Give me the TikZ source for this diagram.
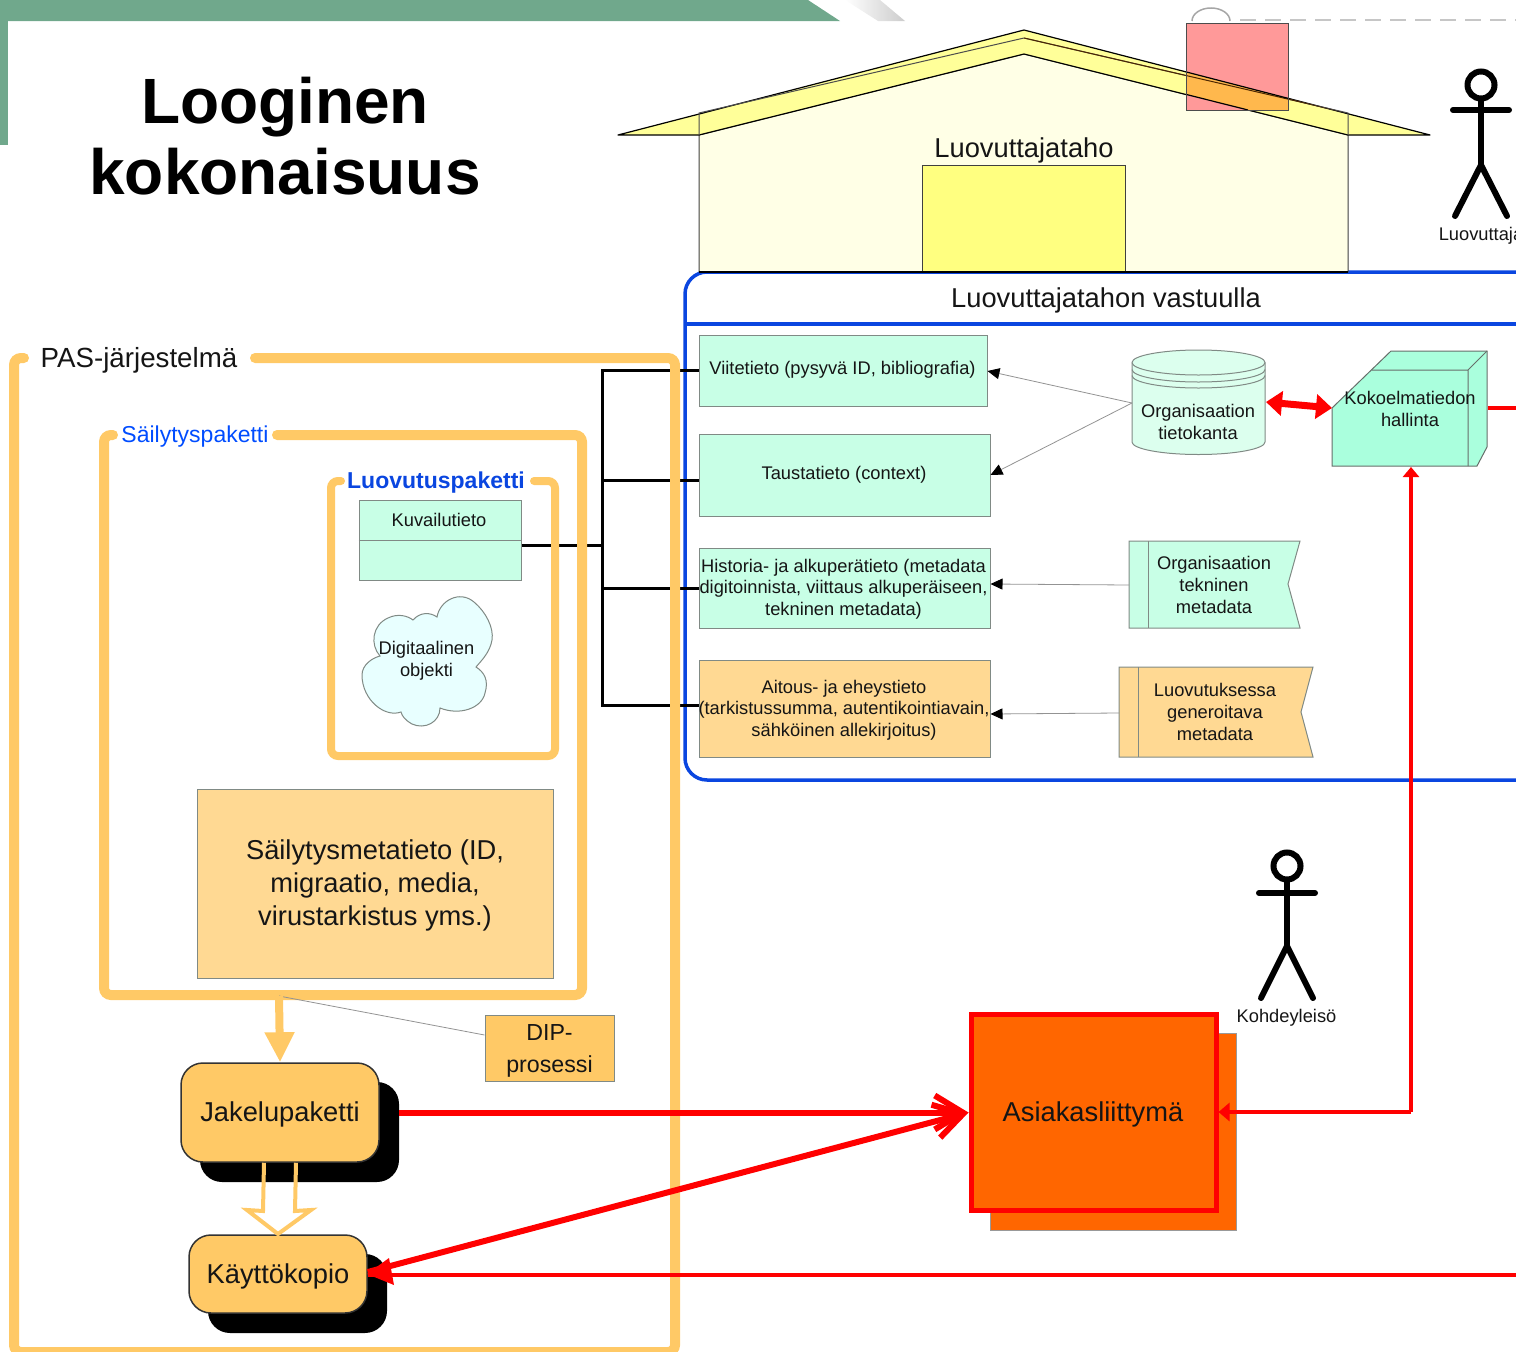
\documentclass[tikz,border=0pt]{standalone}
\usepackage{fontspec}
\setmainfont{Liberation Sans}
\usetikzlibrary{arrows.meta,calc}
\definecolor{topgreen}{HTML}{70A88C}
\definecolor{pasorange}{HTML}{FFC966}
\definecolor{mint}{HTML}{C8FFE6}
\definecolor{cube}{HTML}{AAFFDD}
\definecolor{peach}{HTML}{FFD993}
\definecolor{blueline}{HTML}{0A46E0}
\definecolor{txt}{HTML}{151515}
\definecolor{edgegray}{HTML}{808A85}
\definecolor{wallc}{HTML}{FFFFE6}
\definecolor{roofc}{HTML}{FFFF99}
\definecolor{doorc}{HTML}{FFFF80}
\definecolor{pinkc}{HTML}{FF9999}
\definecolor{overlap}{HTML}{FFB84D}
\definecolor{redorange}{HTML}{FF6600}
\definecolor{cloudc}{HTML}{E8FFFF}
\definecolor{cylc}{HTML}{DCFFEE}
\newcommand{\fs}[2]{\fontsize{#1}{#2}\selectfont}
\tikzset{
  mbox/.style={draw=edgegray,line width=1pt,fill=mint,inner sep=0pt,align=center,text=txt,font=\fs{18.3}{21.7}},
  pbox/.style={mbox,fill=peach},
  label18/.style={inner sep=0pt,align=center,text=txt,font=\fs{18.3}{21.7}},
  rbox/.style={draw=black!80,line width=1.5pt,fill=pasorange,rounded corners=22pt,inner sep=0pt,text=txt,font=\fs{27.3}{32}},
  shadowbox/.style={draw=none,fill=black,rounded corners=22pt,inner sep=0pt},
  frame/.style={draw=pasorange,line width=10pt,rounded corners=7pt,line cap=round},
  bus/.style={draw=black,line width=3pt},
  thinarrow/.style={draw=gray!85,line width=.8pt,-{Triangle[length=12pt,width=11pt,fill=black,color=black]}},
  stick/.style={draw=black,line width=6pt,line cap=round},
  redline/.style={draw=red,line width=4pt},
  stickhead/.style={circle,draw=black,line width=6pt,minimum size=27pt,inner sep=0pt},
}
\begin{document}
\begin{tikzpicture}[x=1pt,y=-1pt]
\useasboundingbox (0,0) rectangle (1516,1352);
% top decoration
\fill[topgreen] (0,0) -- (808,0) -- (840,21) -- (0,21) -- cycle;
\fill[topgreen] (0,21) rectangle (8,145);
\shade[left color=white,right color=gray!40] (845,0) -- (880,0) -- (905,21) -- (878,21) -- cycle;
\draw[gray!70,line width=1.5pt] (1192,21) arc[start angle=180,end angle=360,x radius=19,y radius=13];
\draw[gray!45,line width=2pt,dash pattern=on 16pt off 9pt] (1240,20) -- (1516,20);
% title
\node[inner sep=0pt,align=center,font=\fs{64}{71}\bfseries] (title) at (285,136.5) {Looginen\\kokonaisuus};
% blue box
\draw[blueline,line width=3.5pt,rounded corners=22pt] (1560,272) -- (685,272) -- (685,780) -- (1560,780);
\draw[blueline,line width=3.5pt] (685,324) -- (1516,324);
\node[inner sep=0pt,font=\fs{27.3}{32},text=txt] (vastuu) at (1106,300) {Luovuttajatahon vastuulla};
% house
\begin{scope}[line join=round]
\draw[fill=wallc,draw=black!75,line width=1pt] (699,135) -- (1024,54) -- (1348,135) -- (1348,272) -- (699,272) -- cycle;
\draw[fill=roofc,draw=black,line width=1.2pt] (618,135) -- (1024,30) -- (1430,135) -- (1348,135) -- (1024,54) -- (699,135) -- cycle;
\draw[black!70,line width=1pt] (699,135) -- (699,113) -- (1024,38) -- (1348,113) -- (1348,135);
\end{scope}
\draw[fill=pinkc,draw=black!75,line width=1pt] (1186,23) rectangle (1288,110);
\begin{scope}
\clip (618,135) -- (1024,30) -- (1430,135) -- (1348,135) -- (1024,54) -- (699,135) -- cycle;
\fill[overlap] (1186,23) rectangle (1288,110);
\draw[black!70!orange,line width=1pt] (1024,38) -- (1348,113);
\end{scope}
\draw[black,line width=1.2pt] (1186,71.9) -- (1288,98.3);
\draw[black,line width=1.2pt] (1186,94.4) -- (1248,110);
\draw[black!70,line width=1pt] (1186,23) rectangle (1288,110);
\node[draw=black!75,line width=1pt,fill=doorc,minimum width=203pt,minimum height=107pt,inner sep=0pt] (door) at (1023.5,218.5) {};
\draw[black,line width=1.3pt] (699,272) -- (1348,272);
\node[inner sep=0pt,font=\fs{27.3}{32},text=txt] (taho) at (1024,150) {Luovuttajataho};
% figures
\node[stickhead] (h1) at (1481,85) {};
\coordinate (hip1) at (1481,165);
\draw[stick] (h1) -- (hip1) (1453,110) -- (1509,110);
\draw[stick] (1455,216) -- (hip1) -- (1507,216);
\node[label18] (luov) at (1481,236) {Luovuttaja};
\node[stickhead] (h2) at (1287,866) {};
\coordinate (hip2) at (1287,946);
\draw[stick] (h2) -- (hip2) (1259,893) -- (1315,893);
\draw[stick] (1261,998) -- (hip2) -- (1313,998);
\node[label18] (kohde) at (1286.5,1018) {Kohdeyleisö};
% data boxes
\node[mbox,minimum width=288pt,minimum height=71pt] (viite) at (843,370.5) {};
\node[label18] (viitet) at (842.5,370) {Viitetieto (pysyvä ID, bibliografia)};
\node[mbox,minimum width=291pt,minimum height=82pt] (tausta) at (844.5,475) {};
\node[label18] (taustat) at (844,475) {Taustatieto (context)};
\node[mbox,minimum width=291pt,minimum height=80pt] (hist) at (844.5,588) {};
\node[label18] (histt) at (843.5,589) {Historia- ja alkuperätieto (metadata\\digitoinnista, viittaus alkuperäiseen,\\tekninen metadata)};
\node[pbox,minimum width=291pt,minimum height=97pt] (aitous) at (844.5,708.5) {};
\node[label18] (aitoust) at (844,710) {Aitous- ja eheystieto\\(tarkistussumma, autentikointiavain,\\sähköinen allekirjoitus)};
% Kuvailutieto
\node[mbox,minimum width=162pt,minimum height=80pt] (kuv) at (440,540) {};
\draw[edgegray,line width=1pt] (kuv.west) -- (kuv.east);
\node[label18] (kuvt) at (439,519.5) {Kuvailutieto};
% black bus (under orange frames)
\coordinate (bustop) at (602,370);
\coordinate (busbot) at (602,705);
\draw[bus] (viite.west |- bustop) -- (bustop) -- (busbot) -- (aitous.west |- busbot);
\draw[bus] ($(kuv.east)+(0,5)$) -- (602,545);
\draw[bus] (602,480) -- (tausta.west |- 0,480);
\draw[bus] (602,588) -- (hist.west);
% cloud
\draw[draw=edgegray,fill=cloudc,line width=1pt] (437,617)
  .. controls (440,600) and (460,590) .. (474,602)
  .. controls (486,612) and (494,628) .. (492,640)
  .. controls (490,652) and (482,660) .. (476,667)
  .. controls (484,672) and (489,680) .. (485,693)
  .. controls (482,708) and (460,716) .. (440,708)
  .. controls (440,722) and (425,730) .. (412,724)
  .. controls (405,720) and (402,716) .. (401,712)
  .. controls (385,718) and (362,700) .. (362,675)
  .. controls (362,665) and (372,658) .. (380,656)
  .. controls (370,645) and (372,625) .. (388,618)
  .. controls (398,613) and (408,616) .. (413,620)
  .. controls (420,612) and (430,612) .. (437,617) -- cycle;
\node[label18] (dig) at (426.5,661) {Digitaalinen\\objekti};
% frames
\draw[frame] (24,358) -- (14,358) -- (14,1352) -- (675,1352) -- (675,358) -- (255,358);
\node[inner sep=0pt,font=\fs{27.7}{32},text=txt] (pas) at (139,360.5) {PAS-järjestelmä};
\draw[frame] (113,435) -- (104,435) -- (104,995) -- (582,995) -- (582,435) -- (277,435);
\node[inner sep=0pt,font=\fs{23}{27},text=blue!70!cyan] (sail) at (195,437) {Säilytyspaketti};
\draw[frame,line width=8pt] (341,481) -- (331,481) -- (331,756) -- (555,756) -- (555,481) -- (534,481);
\node[inner sep=0pt,font=\fs{23}{27}\bfseries,text=blueline] (luovp) at (436,483) {Luovutuspaketti};
\node[pbox,minimum width=356pt,minimum height=189pt] (smeta) at (375,883.5) {};
\node[inner sep=0pt,align=center,text=txt,font=\fs{27.3}{33}] (smetat) at (375,885.5) {Säilytysmetatieto (ID,\\migraatio, media,\\virustarkistus yms.)};
% cylinder
\path[draw=edgegray,fill=cylc,line width=1pt] (1132,362.5) -- (1132,442) arc[start angle=180,end angle=0,x radius=66.5,y radius=12.5] -- (1265,362.5) arc[start angle=0,end angle=-180,x radius=66.5,y radius=12.5] -- cycle;
\draw[edgegray,line width=1pt] (1132,362.5) arc[start angle=180,end angle=0,x radius=66.5,y radius=12.5];
\draw[edgegray,line width=1pt] (1132,369.5) arc[start angle=180,end angle=0,x radius=66.5,y radius=12.5];
\draw[edgegray,line width=1pt] (1132,375.5) arc[start angle=180,end angle=0,x radius=66.5,y radius=12.5];
\node[label18] (org) at (1198,422) {Organisaation\\tietokanta};
\coordinate (orgw) at (1132,403);
\coordinate (orge) at (1266,402);
% cube
\draw[draw=edgegray!80!black,fill=cube,line width=1pt] (1332,408) -- (1391,351) -- (1487,351) -- (1487,447) -- (1477,466) -- (1332,466) -- cycle;
\draw[edgegray!80!black,line width=1pt] (1372,370) -- (1468,370) -- (1468,466) (1468,370) -- (1487,351);
\node[label18] (koko) at (1410,409) {Kokoelmatiedon\\hallinta};
\coordinate (kokow) at (1332,408);
\coordinate (kokos) at (1411,467);
\coordinate (kokoe) at (1488,408);
\coordinate (rightA) at (1516,408);
% metadata flags
\draw[draw=edgegray,fill=mint,line width=1pt] (1129,541) -- (1300,541) -- (1288,584) -- (1300,628) -- (1129,628) -- cycle;
\draw[edgegray,line width=1pt] (1148,541) -- (1148,628);
\node[label18] (orgtek) at (1214,585) {Organisaation\\tekninen\\metadata};
\coordinate (orgtekw) at (1129,585);
\draw[draw=edgegray,fill=peach,line width=1pt] (1119,667) -- (1313,667) -- (1301,712) -- (1313,757) -- (1119,757) -- cycle;
\draw[edgegray,line width=1pt] (1138,667) -- (1138,757);
\node[label18] (luovm) at (1215,712) {Luovutuksessa\\generoitava\\metadata};
\coordinate (luovmw) at (1119,713);
% thin arrows
\draw[thinarrow] (orgw) -- (viite.east |- 0,371);
\draw[thinarrow] (orgw) -- (tausta.east);
\draw[thinarrow] (orgtekw) -- (hist.east |- 0,584);
\draw[thinarrow] (luovmw) -- (aitous.east |- 0,714);
% lower nodes
\node[draw=edgegray,line width=1pt,fill=pasorange,inner sep=0pt,align=center,text=txt,font=\fs{23.2}{32},minimum width=129pt,minimum height=66pt] (dip) at (549.5,1048) {};
\node[inner sep=0pt,align=center,text=txt,font=\fs{23.2}{32}] (dipt) at (549.5,1050.5) {DIP-\\prosessi};
\coordinate (sailb) at (279,996);
\draw[gray!85,line width=.8pt] (dip.west |- 0,1035) -- (sailb);
\node[shadowbox,minimum width=199pt,minimum height=100pt] (jakels) at (299.5,1132) {};
\node[rbox,minimum width=198pt,minimum height=99pt] (jakel) at (280,1112.5) {};
\node[inner sep=0pt,text=txt,font=\fs{27.3}{32}] (jakelt) at (280,1114.5) {Jakelupaketti};
\node[shadowbox,minimum width=179pt,minimum height=79pt] (kayts) at (297.5,1293.5) {};
\node[rbox,minimum width=178pt,minimum height=78pt] (kayt) at (278,1274) {};
\node[inner sep=0pt,text=txt,font=\fs{27.3}{32}] (kaytt) at (278,1276) {Käyttökopio};
\draw[pasorange,line width=8pt,-{Triangle[length=30pt,width=28pt]}] (sailb) -- (jakel.north);
% hollow arrow
\draw[pasorange,line width=4pt,line join=miter] ($(jakel.south)+(-16,0)$) -- (263,1211) -- (247,1210) -- (278,1234) -- (311,1210) -- (295,1211) -- ($(jakel.south)+(16,0)$);
% Asiakasliittyma
\node[draw=gray!80,line width=1pt,fill=redorange,minimum width=246pt,minimum height=197pt,inner sep=0pt] (asias) at (1113,1131.5) {};
\node[draw=red,line width=5pt,fill=redorange,minimum width=245pt,minimum height=196pt,inner sep=0pt] (asia) at (1093.5,1112.5) {};
\node[inner sep=0pt,text=txt,font=\fs{27.3}{32}] (asiat) at (1093,1114.5) {Asiakasliittymä};
% red connectors
\draw[red,line width=7pt,{Triangle[length=16pt,width=24pt]}-{Triangle[length=16pt,width=24pt]}] (orge) -- (kokow);
\draw[redline] (kokoe) -- (rightA);
\coordinate (rcorner) at (1411,1112);
\draw[red,line width=3.5pt,-{Triangle[length=10pt,width=16pt]}] (rcorner) -- (kokos);
\draw[red,line width=3.5pt,-{Triangle[length=11pt,width=18pt]}] (rcorner) -- (asia.east |- rcorner);
\draw[red,line width=6pt,-{Straight Barb[length=28pt,width=34pt,line width=6pt]}] (jakels.east |- asia.west) -- (asia.west);
\draw[red,line width=6pt,-{Straight Barb[length=28pt,width=34pt,line width=6pt]}] (kayt.east |- 0,1272) -- (asia.west);
\coordinate (rightB) at (1516,1275);
\draw[red,line width=4pt] (rightB) -- (kayt.east |- rightB);
\fill[red] (367,1274) -- (389,1258) -- (394,1285) -- cycle;
\end{tikzpicture}
\end{document}
